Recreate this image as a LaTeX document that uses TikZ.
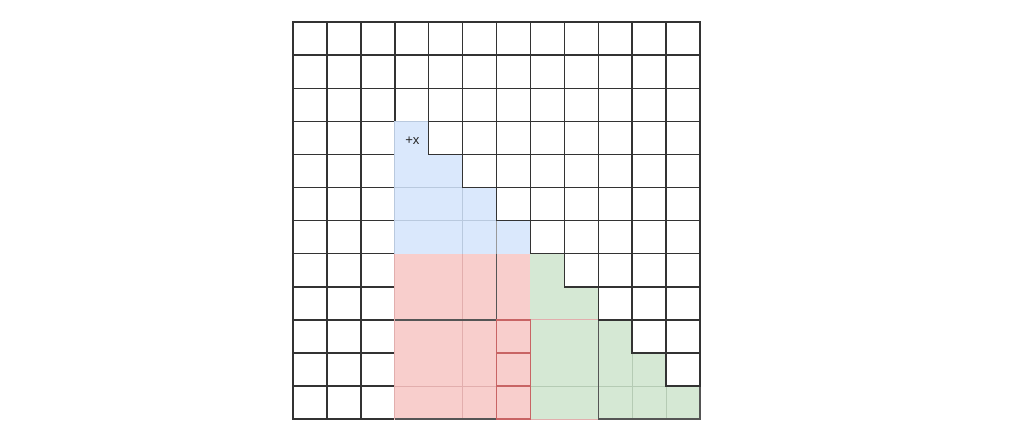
\documentclass[tikz,border=0pt]{standalone}
\usepackage{fontspec}
\setsansfont{Liberation Sans}
\usepackage{tikz}
\definecolor{bluefill}{HTML}{DAE8FC}
\definecolor{redfill}{HTML}{F8CECC}
\definecolor{greenfill}{HTML}{D5E8D4}
\definecolor{bluefaint}{HTML}{B9C9DE}
\definecolor{redfaint}{HTML}{E2AEAD}
\definecolor{greenfaint}{HTML}{B5CBB4}
\definecolor{redline}{HTML}{C86464}
\definecolor{darkline}{HTML}{555555}
\tikzset{
  cell/.style={draw=black!80, line width=1.25pt},
  region/.style={line width=1.25pt, line join=miter},
  faint/.style={line width=.9pt},
  hard/.style={draw=darkline, line width=1.25pt},
  redbox/.style={draw=redline, line width=1.2pt},
}
\newcommand\gridcells[2]{%
  \foreach \c in {#1,...,#2}
    \foreach \j in {0,...,11}{
      \pgfmathtruncatemacro\hit{and(and(\c>2,\j<9),\c+\j<12)}
      \ifnum\hit=0 \draw[cell] (\c,\j) rectangle ++(1,1); \fi
    }%
}
\begin{document}
\begin{tikzpicture}[x=1cm, y=0.9752cm]
\useasboundingbox (-8.638,-0.846) rectangle (21.55,12.67);
\gridcells{0}{3}
\filldraw[region, fill=redfill, draw=redfill] (3,0) rectangle (7,5);
\filldraw[region, fill=bluefill, draw=bluefill] (3,5) -- (7,5) -- (7,6) -- (6,6) -- (6,7) -- (5,7) -- (5,8) -- (4,8) -- (4,9) -- (3,9) -- cycle;
\filldraw[region, fill=greenfill, draw=greenfill] (7,0) -- (12,0) -- (12,1) -- (11,1) -- (11,2) -- (10,2) -- (10,3) -- (9,3) -- (9,4) -- (8,4) -- (8,5) -- (7,5) -- cycle;
\draw[faint, bluefaint] (3,5) -- (3,9) -- (4,9);
\draw[faint, bluefaint] (3,6) -- (6,6) (3,7) -- (5,7) (5,5) -- (5,7);
\draw[faint, black!40] (6,5) -- (6,6);
\draw[faint, redfaint] (3,0) -- (3,5) (5,0) -- (5,5) (3,1) -- (6,1) (7,3) -- (9,3) (7,0) -- (9,0);
\draw[faint, greenfaint] (7,1) -- (12,1) (10,0) -- (10,2) (11,0) -- (11,1);
\draw[hard] (6,5) -- (6,3) -- (3,3) (3,0) -- (6,0) (9,3) -- (9,0) -- (12,0) -- (12,1);
\foreach \j in {0,1,2}
  \draw[redbox] (6,\j) rectangle ++(1,1);
\gridcells{4}{11}
\node[font=\sffamily\fontsize{11}{13}\selectfont, text=black!85] (plusx) at (3.52,8.43) {+x};
\end{tikzpicture}
\end{document}
